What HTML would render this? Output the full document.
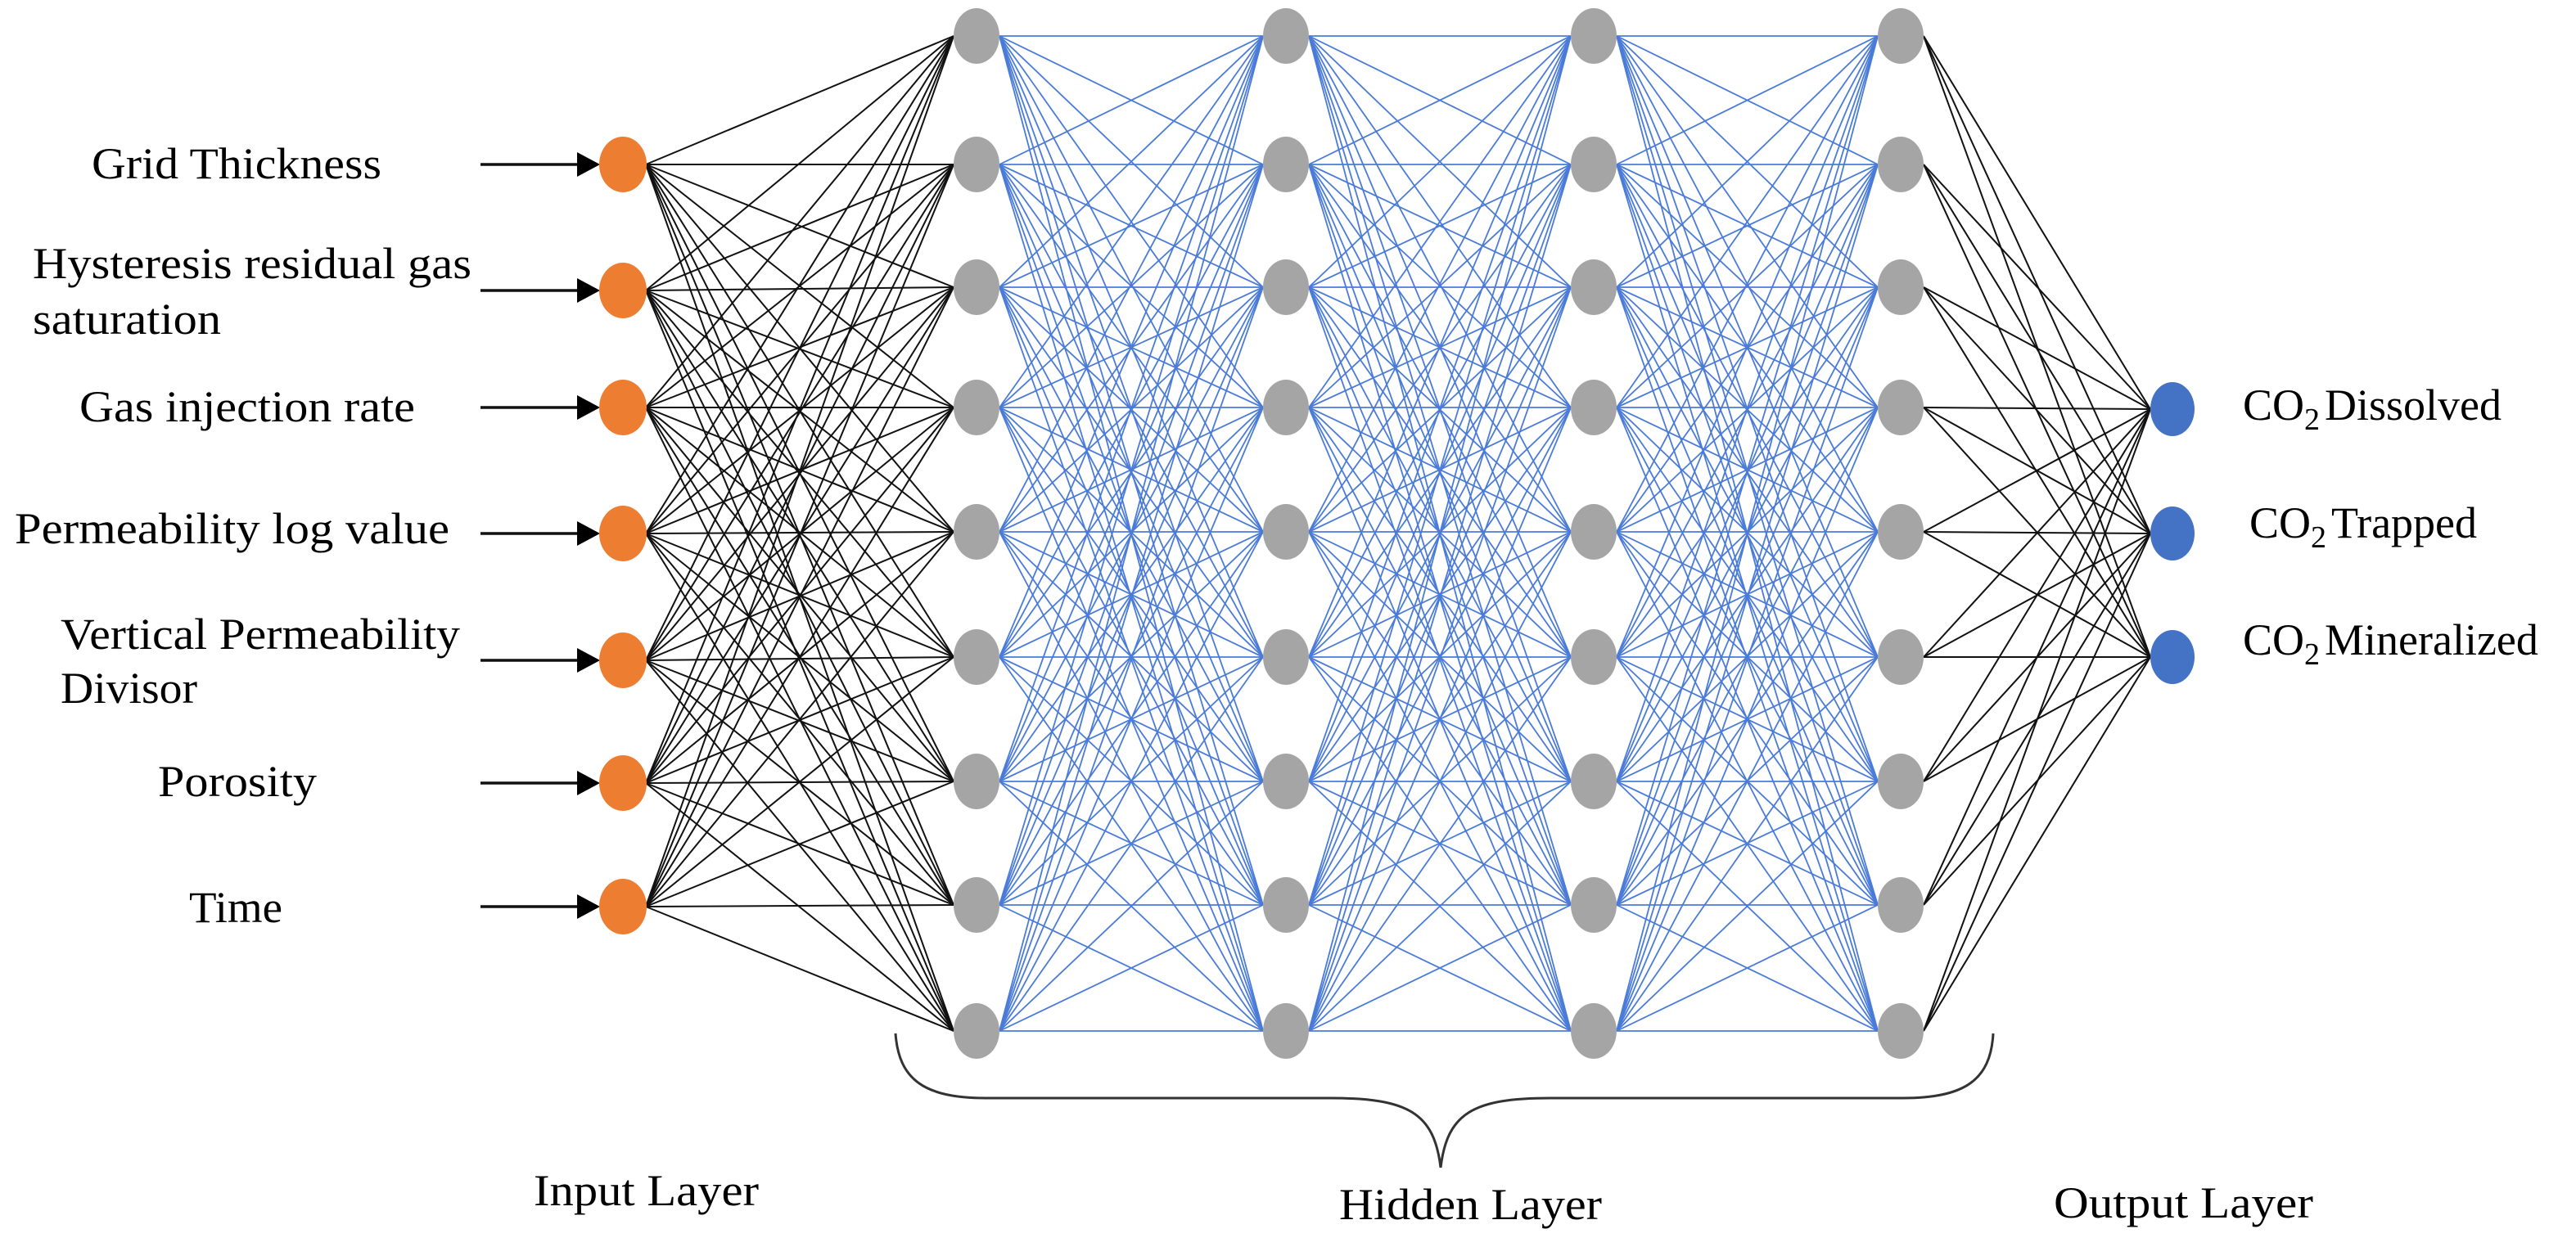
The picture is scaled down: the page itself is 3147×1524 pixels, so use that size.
<!DOCTYPE html>
<html><head><meta charset="utf-8"><style>
html,body{margin:0;padding:0;background:#fff;}
svg{display:block;}
text{font-family:"Liberation Serif",serif;font-size:54px;fill:#000;}
</style></head><body>
<svg id="s" width="3147" height="1524" viewBox="0 0 3147 1524" xmlns="http://www.w3.org/2000/svg">
<g id="edges"></g>
<g id="nodes"></g>
<path d="M1094,1263 C1098,1320 1130,1342 1204,1342 L1626,1342 C1720,1342 1752,1360 1760,1427 C1768,1360 1800,1342 1894,1342 L2325,1342 C2400,1342 2432,1320 2435,1263" fill="none" stroke="#333" stroke-width="3"/>
<text x="112" y="218" textLength="354" lengthAdjust="spacingAndGlyphs">Grid Thickness</text>
<text x="40" y="340" textLength="536" lengthAdjust="spacingAndGlyphs">Hysteresis residual gas</text>
<text x="40" y="408" textLength="230" lengthAdjust="spacingAndGlyphs">saturation</text>
<text x="97" y="515" textLength="410" lengthAdjust="spacingAndGlyphs">Gas injection rate</text>
<text x="18" y="664" textLength="531" lengthAdjust="spacingAndGlyphs">Permeability  log value</text>
<text x="74" y="793" textLength="488" lengthAdjust="spacingAndGlyphs">Vertical Permeability</text>
<text x="74" y="859" textLength="167" lengthAdjust="spacingAndGlyphs">Divisor</text>
<text x="193" y="973" textLength="194" lengthAdjust="spacingAndGlyphs">Porosity</text>
<text x="231" y="1127" textLength="114" lengthAdjust="spacingAndGlyphs">Time</text>
<text x="652" y="1473" textLength="275" lengthAdjust="spacingAndGlyphs">Input Layer</text>
<text x="1636" y="1490" textLength="321" lengthAdjust="spacingAndGlyphs">Hidden Layer</text>
<text x="2509" y="1488" textLength="317" lengthAdjust="spacingAndGlyphs">Output Layer</text>
<text x="2740" y="513">CO<tspan font-size="38" dy="12">2</tspan><tspan dx="6" dy="-12">Dissolved</tspan></text>
<text x="2748" y="657">CO<tspan font-size="38" dy="12">2</tspan><tspan dx="6" dy="-12">Trapped</tspan></text>
<text x="2740" y="800">CO<tspan font-size="38" dy="12">2</tspan><tspan dx="6" dy="-12">Mineralized</tspan></text>
</svg>
<script>
var NS="http://www.w3.org/2000/svg";
var E=document.getElementById("edges"),N=document.getElementById("nodes");
function el(p,t,a){var e=document.createElementNS(NS,t);for(var k in a)e.setAttribute(k,a[k]);p.appendChild(e);return e;}
var inX=761,inY=[201,355,498,652,807,957,1108];
var hX=[1193,1571,1947,2322],hY=[44,201,351,498,650,803,955,1106,1260];
var oX=2654,oY=[500,652,803];
var rx=28,ry=34;
inY.forEach(function(a){hY.forEach(function(b){el(E,"line",{x1:inX+28,y1:a,x2:hX[0]-rx,y2:b,stroke:"#111","stroke-width":2});});});
for(var c=0;c<3;c++){hY.forEach(function(a){hY.forEach(function(b){el(E,"line",{x1:hX[c]+rx,y1:a,x2:hX[c+1]-rx,y2:b,stroke:"#4a7bd8","stroke-width":1.8});});});}
hY.forEach(function(a){oY.forEach(function(b){el(E,"line",{x1:hX[3]+rx,y1:a,x2:oX-27,y2:b,stroke:"#111","stroke-width":2});});});
inY.forEach(function(y){
 el(E,"line",{x1:587,y1:y,x2:712,y2:y,stroke:"#111","stroke-width":3.5});
 el(E,"polygon",{points:"705,"+(y-15)+" 733,"+y+" 705,"+(y+15),fill:"#000"});
 el(N,"ellipse",{cx:inX,cy:y,rx:29,ry:34,fill:"#ed7d31"});
});
hX.forEach(function(x){hY.forEach(function(y){el(N,"ellipse",{cx:x,cy:y,rx:rx,ry:ry,fill:"#a5a5a5"});});});
oY.forEach(function(y){el(N,"ellipse",{cx:oX,cy:y,rx:27,ry:33,fill:"#4472c4"});});
</script>
</body></html>
